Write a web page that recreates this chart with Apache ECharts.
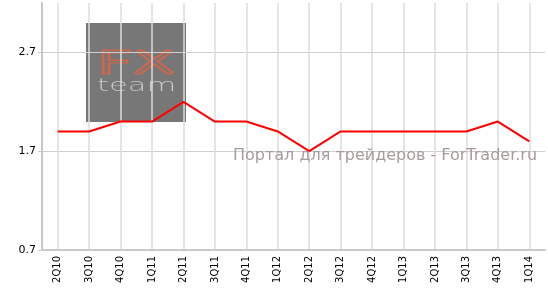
<!DOCTYPE html>
<html><head><meta charset="utf-8">
<script src="https://cdn.jsdelivr.net/npm/echarts@6/dist/echarts.min.js"></script>
<style>html,body{margin:0;padding:0;background:#fff}#c{width:548px;height:289px}</style>
</head><body><div id="c"></div>
<script>
var categories = ['2Q10','3Q10','4Q10','1Q11','2Q11','3Q11','4Q11','1Q12','2Q12','3Q12','4Q12','1Q13','2Q13','3Q13','4Q13','1Q14'];
var values = [1.9,1.9,2.0,2.0,2.2,2.0,2.0,1.9,1.7,1.9,1.9,1.9,1.9,1.9,2.0,1.8];
var yMin = 0.7, yMax = 3.2, yInterval = 1;

var chart = echarts.init(document.getElementById('c'), null, {renderer:'canvas'});
chart.setOption({
  animation:false,
  grid:{left:42,right:3,top:3,bottom:39},
  graphic:[
    {type:'rect', z:-10, shape:{x:86,y:23,width:100,height:99}, style:{fill:'#777777'}},
    {type:'text', z:-9, x:97, y:49, scaleX:2.0, style:{text:'FX', font:'200 31px "DejaVu Sans"', fill:'#777777', stroke:'#d0664f', lineWidth:2.8}},
    {type:'text', z:-9, x:97, y:77, scaleX:1.7, style:{text:'team', font:'200 18px "DejaVu Sans"', fill:'#c8c8c8'}},
    {type:'text', z:100, left:233, top:148, style:{text:'Портал для трейдеров - ForTrader.ru', font:'16px "DejaVu Sans"', fill:'#a89b9b'}}
  ],
  xAxis:{
    type:'category', data:categories, boundaryGap:true,
    axisLine:{lineStyle:{color:'#c8c8c8', width:2}},
    axisTick:{alignWithLabel:true, length:3, lineStyle:{color:'#c8c8c8'}},
    axisLabel:{rotate:90, margin:6, color:'#000', fontSize:10, fontFamily:'DejaVu Sans'},
    splitLine:{show:true, alignWithLabel:true, lineStyle:{color:'#dcdcdc', width:1.5}}
  },
  yAxis:{
    type:'value', min:yMin, max:yMax, interval:yInterval,
    axisLine:{show:true, lineStyle:{color:'#c8c8c8', width:2}},
    axisTick:{show:true, length:4, lineStyle:{color:'#c8c8c8'}},
    axisLabel:{showMaxLabel:false, margin:6, color:'#000', fontSize:11, fontFamily:'DejaVu Sans', formatter:function(v){return v.toFixed(1);}},
    splitLine:{show:true, showMaxLine:false, lineStyle:{color:'#d0d0d0', width:1}}
  },
  series:[{type:'line', data:values, symbol:'none', lineStyle:{color:'#ff0000', width:2}, z:5}]
});
</script></body></html>
